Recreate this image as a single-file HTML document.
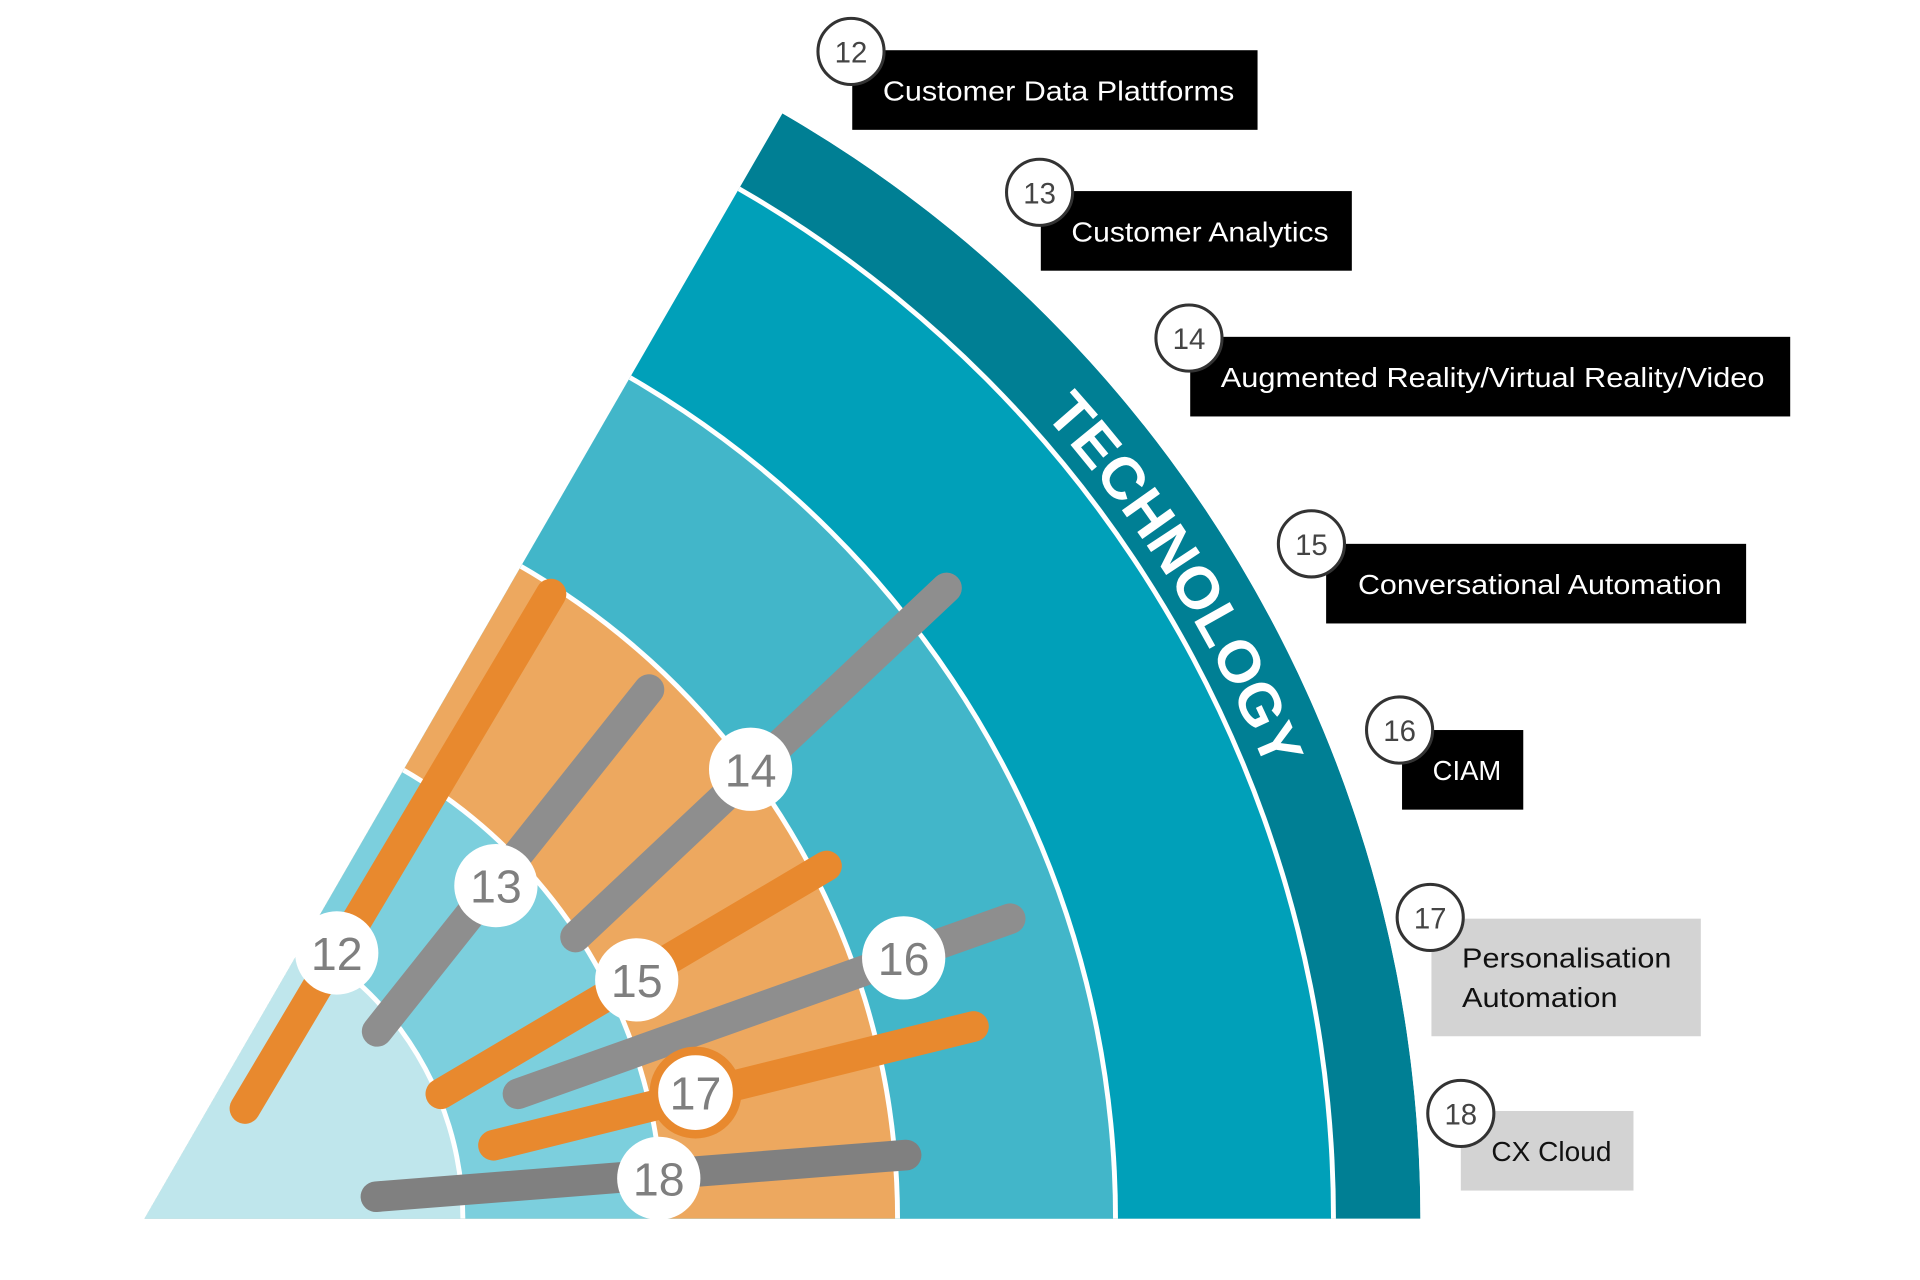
<!DOCTYPE html>
<html><head><meta charset="utf-8"><style>
html,body{margin:0;padding:0;background:#fff;width:1920px;height:1280px;overflow:hidden}
svg{display:block;position:absolute;left:0;top:0}
</style></head><body>
<svg width="1920" height="1280" viewBox="0 0 1568 1045" preserveAspectRatio="none" xmlns="http://www.w3.org/2000/svg" font-family="'Liberation Sans', sans-serif">
<defs>
<clipPath id="w"><path d="M118,995 L1160,995 A1042,1042 0 0 0 639,92.6 Z"/></clipPath>
<path id="tp" d="M814.5,298.5 A988,988 0 0 1 1091,824"/>
</defs>
<g clip-path="url(#w)">
<circle cx="118" cy="995" r="1042" fill="#007f94"/>
<circle cx="118" cy="995" r="973" fill="#fff"/>
<circle cx="118" cy="995" r="969" fill="#00a0b9"/>
<circle cx="118" cy="995" r="795" fill="#fff"/>
<circle cx="118" cy="995" r="791" fill="#42b6c9"/>
<circle cx="118" cy="995" r="617" fill="#fff"/>
<circle cx="118" cy="995" r="613" fill="#eda85f"/>
<circle cx="118" cy="995" r="425" fill="#fff"/>
<circle cx="118" cy="995" r="421" fill="#7ccfdd"/>
<circle cx="118" cy="995" r="262" fill="#fff"/>
<circle cx="118" cy="995" r="258" fill="#bfe6ec"/>
</g>
<text font-size="48" font-weight="bold" fill="#fff"><textPath href="#tp" startOffset="55" textLength="345" lengthAdjust="spacingAndGlyphs">TECHNOLOGY</textPath></text>
<g stroke-linecap="round" stroke-width="25" fill="none">
<line x1="200" y1="905" x2="450" y2="485" stroke="#e8892e"/>
<line x1="308" y1="842" x2="530" y2="563" stroke="#8e8e8e"/>
<line x1="470" y1="765" x2="773" y2="480" stroke="#8e8e8e"/>
<line x1="360" y1="893" x2="675" y2="707" stroke="#e8892e"/>
<line x1="423" y1="893" x2="825" y2="750" stroke="#8e8e8e"/>
<line x1="403" y1="935" x2="795" y2="838" stroke="#e8892e"/>
<line x1="307" y1="977" x2="740" y2="943" stroke="#808080"/>
</g>
<g fill="#fff" font-size="38" text-anchor="middle">
<circle cx="275" cy="778" r="34"/><circle cx="405" cy="723" r="34"/><circle cx="613" cy="628" r="34"/>
<circle cx="520" cy="800" r="34"/><circle cx="738" cy="782" r="34"/>
<circle cx="568" cy="892" r="34" stroke="#e8892e" stroke-width="7"/>
<circle cx="538" cy="962" r="34"/>
<g fill="#7f7f7f">
<text x="275" y="792">12</text><text x="405" y="737">13</text><text x="613" y="642">14</text>
<text x="520" y="814">15</text><text x="738" y="796">16</text><text x="568" y="906">17</text><text x="538" y="976">18</text>
</g>
</g>
<g font-size="23">
<rect x="696" y="41" width="331" height="65" fill="#000"/>
<text x="721" y="82" fill="#fff" textLength="287" lengthAdjust="spacingAndGlyphs">Customer Data Plattforms</text>
<rect x="850" y="156" width="254" height="65" fill="#000"/>
<text x="875" y="197" fill="#fff" textLength="210" lengthAdjust="spacingAndGlyphs">Customer Analytics</text>
<rect x="972" y="275" width="490" height="65" fill="#000"/>
<text x="997" y="316" fill="#fff" textLength="444" lengthAdjust="spacingAndGlyphs">Augmented Reality/Virtual Reality/Video</text>
<rect x="1083" y="444" width="343" height="65" fill="#000"/>
<text x="1109" y="485" fill="#fff" textLength="297" lengthAdjust="spacingAndGlyphs">Conversational Automation</text>
<rect x="1145" y="596" width="99" height="65" fill="#000"/>
<text x="1170" y="637" fill="#fff" textLength="56" lengthAdjust="spacingAndGlyphs">CIAM</text>
<rect x="1169" y="750" width="220" height="96" fill="#d3d3d3"/>
<text x="1194" y="790" fill="#111" textLength="171" lengthAdjust="spacingAndGlyphs">Personalisation</text>
<text x="1194" y="822" fill="#111" textLength="127" lengthAdjust="spacingAndGlyphs">Automation</text>
<rect x="1193" y="907" width="141" height="65" fill="#d3d3d3"/>
<text x="1218" y="948" fill="#111" textLength="98" lengthAdjust="spacingAndGlyphs">CX Cloud</text>
</g>
<g fill="#fff" stroke="#333" stroke-width="2.5" >
<circle cx="695" cy="42" r="27"/><circle cx="849" cy="157" r="27"/><circle cx="971" cy="276" r="27"/>
<circle cx="1071" cy="444" r="27"/><circle cx="1143" cy="596" r="27"/><circle cx="1168" cy="749" r="27"/><circle cx="1193" cy="909" r="27"/>
</g>
<g fill="#444" font-size="24" text-anchor="middle">
<text x="695" y="51">12</text><text x="849" y="166">13</text><text x="971" y="285">14</text>
<text x="1071" y="453">15</text><text x="1143" y="605">16</text><text x="1168" y="758">17</text><text x="1193" y="918">18</text>
</g>
</svg>
</body></html>
